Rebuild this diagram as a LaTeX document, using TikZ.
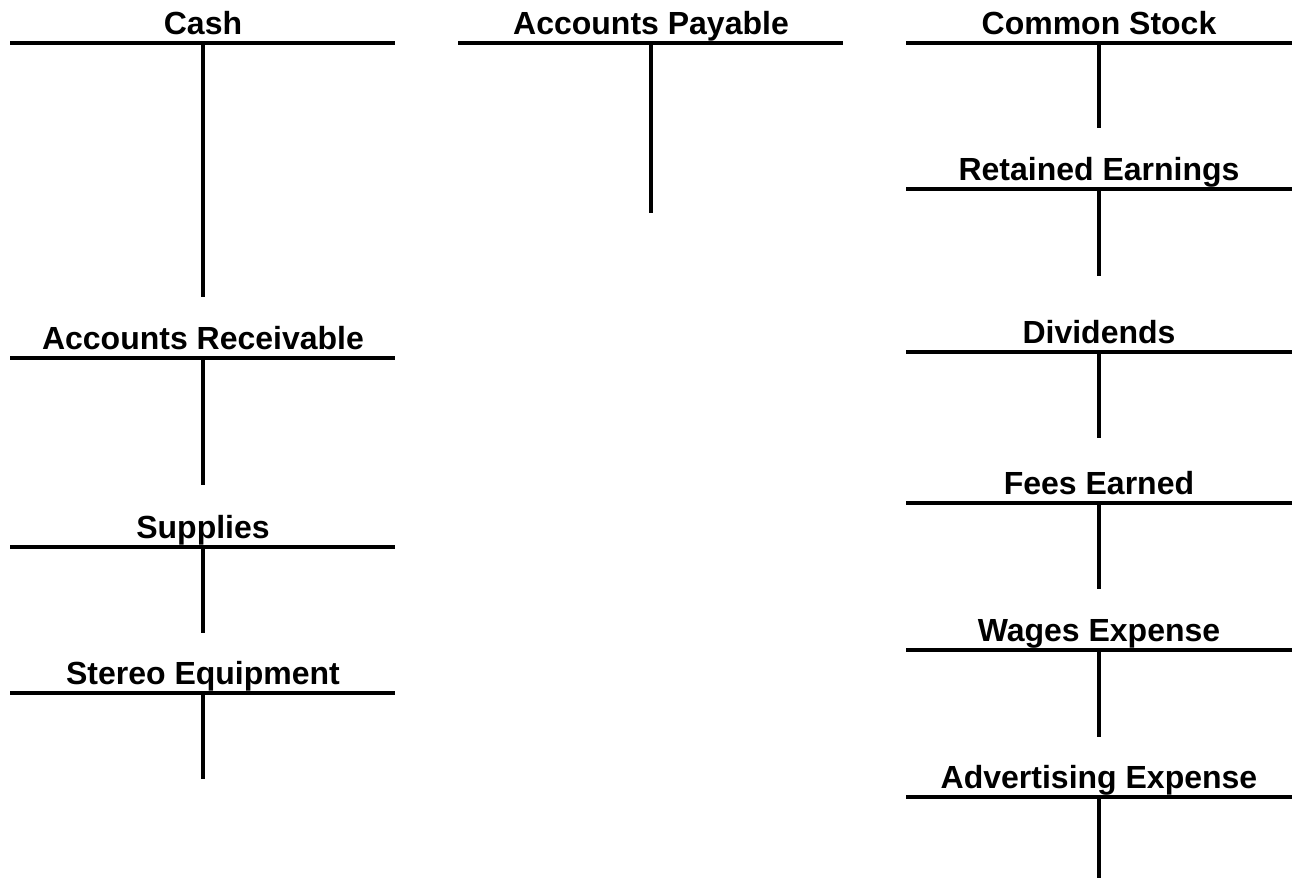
\documentclass[tikz,border=0pt]{standalone}
\usepackage{fontspec}
\setmainfont{Liberation Sans}

\begin{document}
\begin{tikzpicture}[
  x=1pt, y=-1pt,
  title/.style={font=\fontsize{32}{37}\selectfont\bfseries, anchor=base, inner sep=0pt},
  tline/.style={line width=4.2pt}
]
  \useasboundingbox (0,0) rectangle (1292,878);

  % left column
  \node[title] (cash) at (203,34) {Cash};
  \draw[tline] (10,43) coordinate (cashL) -- (395,43) coordinate (cashR);
  \draw[tline] (cashL -| cash) -- (cash |- 0,297);

  \node[title] (ar) at (203,349) {Accounts Receivable};
  \draw[tline] (10,358) coordinate (arL) -- (395,358) coordinate (arR);
  \draw[tline] (arL -| ar) -- (ar |- 0,485);

  \node[title] (supplies) at (203,538) {Supplies};
  \draw[tline] (10,547) coordinate (supL) -- (395,547) coordinate (supR);
  \draw[tline] (supL -| supplies) -- (supplies |- 0,633);

  \node[title] (stereo) at (203,684) {Stereo Equipment};
  \draw[tline] (10,693) coordinate (stL) -- (395,693) coordinate (stR);
  \draw[tline] (stL -| stereo) -- (stereo |- 0,779);

  % middle column
  \node[title] (ap) at (651,34) {Accounts Payable};
  \draw[tline] (458,43) coordinate (apL) -- (843,43) coordinate (apR);
  \draw[tline] (apL -| ap) -- (ap |- 0,213);

  % right column
  \node[title] (cs) at (1099,34) {Common Stock};
  \draw[tline] (906,43) coordinate (csL) -- (1292,43) coordinate (csR);
  \draw[tline] (csL -| cs) -- (cs |- 0,128);

  \node[title] (re) at (1099,180) {Retained Earnings};
  \draw[tline] (906,189) coordinate (reL) -- (1292,189) coordinate (reR);
  \draw[tline] (reL -| re) -- (re |- 0,276);

  \node[title] (div) at (1099,343) {Dividends};
  \draw[tline] (906,352) coordinate (divL) -- (1292,352) coordinate (divR);
  \draw[tline] (divL -| div) -- (div |- 0,438);

  \node[title] (fees) at (1099,494) {Fees Earned};
  \draw[tline] (906,503) coordinate (feesL) -- (1292,503) coordinate (feesR);
  \draw[tline] (feesL -| fees) -- (fees |- 0,589);

  \node[title] (wages) at (1099,641) {Wages Expense};
  \draw[tline] (906,650) coordinate (wagL) -- (1292,650) coordinate (wagR);
  \draw[tline] (wagL -| wages) -- (wages |- 0,737);

  \node[title] (adv) at (1099,788) {Advertising Expense};
  \draw[tline] (906,797) coordinate (advL) -- (1292,797) coordinate (advR);
  \draw[tline] (advL -| adv) -- (adv |- 0,878);
\end{tikzpicture}
\end{document}
